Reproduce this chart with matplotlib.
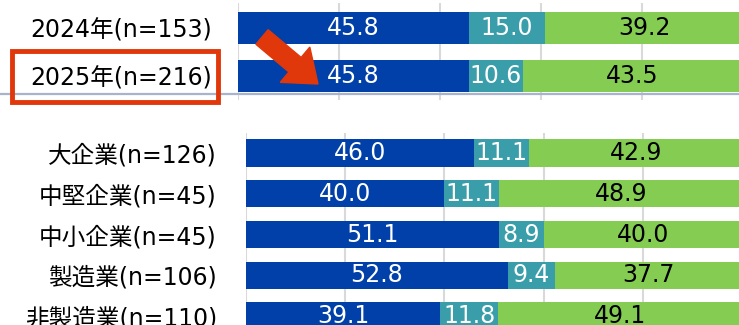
import numpy as np
import matplotlib.pyplot as plt
from matplotlib.patches import FancyArrow, Rectangle

plt.rcParams['font.family'] = ['DejaVu Sans', 'Noto Sans CJK JP']

# 年次比較
year_labels = ['2024年(n=153)', '2025年(n=216)']
year_a = [45.8, 45.8]
year_b = [15.0, 10.6]
year_c = [39.2, 43.5]

# 属性別
group_labels = ['大企業(n=126)', '中堅企業(n=45)', '中小企業(n=45)', '製造業(n=106)', '非製造業(n=110)']
group_a = [46.0, 40.0, 51.1, 52.8, 39.1]
group_b = [11.1, 11.1, 8.9, 9.4, 11.8]
group_c = [42.9, 48.9, 40.0, 37.7, 49.1]

colors = ['#0040A8', '#3A9EAA', '#85CC52']
text_colors = ['white', 'white', 'black']

W, H = 739, 325
fig = plt.figure(figsize=(W / 100, H / 100), dpi=100)


def px_axes(x0, y0, x1, y1):
    # axes placed by pixel box (top-left origin)
    return fig.add_axes([x0 / W, 1 - y1 / H, (x1 - x0) / W, (y1 - y0) / H])


def stacked(ax, labels, series, bar_h, ylim, pad):
    y = np.arange(len(labels))
    left = np.zeros(len(labels))
    for vals, c, tc in zip(series, colors, text_colors):
        vals = np.array(vals)
        ax.barh(y, vals, left=left, height=bar_h, color=c, zorder=2)
        for yi, l, v in zip(y, left, vals):
            ax.text(l + v / 2, yi, f'{v:.1f}', ha='center', va='center',
                    color=tc, fontsize=17, zorder=3)
        left += vals
    ax.set_xlim(0, 100)
    ax.set_ylim(*ylim)
    ax.set_yticks(y)
    ax.set_yticklabels(labels, fontsize=17)
    ax.tick_params(axis='y', length=0, pad=pad)
    ax.set_xticks([0, 20, 40, 60, 80, 100])
    ax.tick_params(axis='x', length=0, labelbottom=False)
    ax.grid(axis='x', color='#D9D9D9', linewidth=1.5, zorder=0)
    for s in ax.spines.values():
        s.set_visible(False)
    ax.set_facecolor('none')


ax1 = px_axes(238, 3, 743, 100)
stacked(ax1, year_labels, [year_a, year_b, year_c], 0.66, (1.485, -0.515), 19)

ax2 = px_axes(246, 133, 742, 325)
stacked(ax2, group_labels, [group_a, group_b, group_c], 0.675, (4.22, -0.49), 21)

# overlay in pixel coordinates for the separator, box and arrow
ov = fig.add_axes([0, 0, 1, 1], zorder=10)
ov.set_xlim(0, W)
ov.set_ylim(H, 0)
ov.axis('off')
ov.plot([0, W], [93.5, 93.5], color='#A9B3CB', linewidth=1.6, zorder=1)
ov.add_patch(Rectangle((11.5, 50.5), 206, 51, fill=False,
                       edgecolor='#E0380A', linewidth=3.5, zorder=2))
ov.add_patch(FancyArrow(262, 37, 56, 47, width=19, head_width=46, head_length=30,
                        length_includes_head=True, color='#E0380A', zorder=3))

fig.savefig('out.png', dpi=100)
